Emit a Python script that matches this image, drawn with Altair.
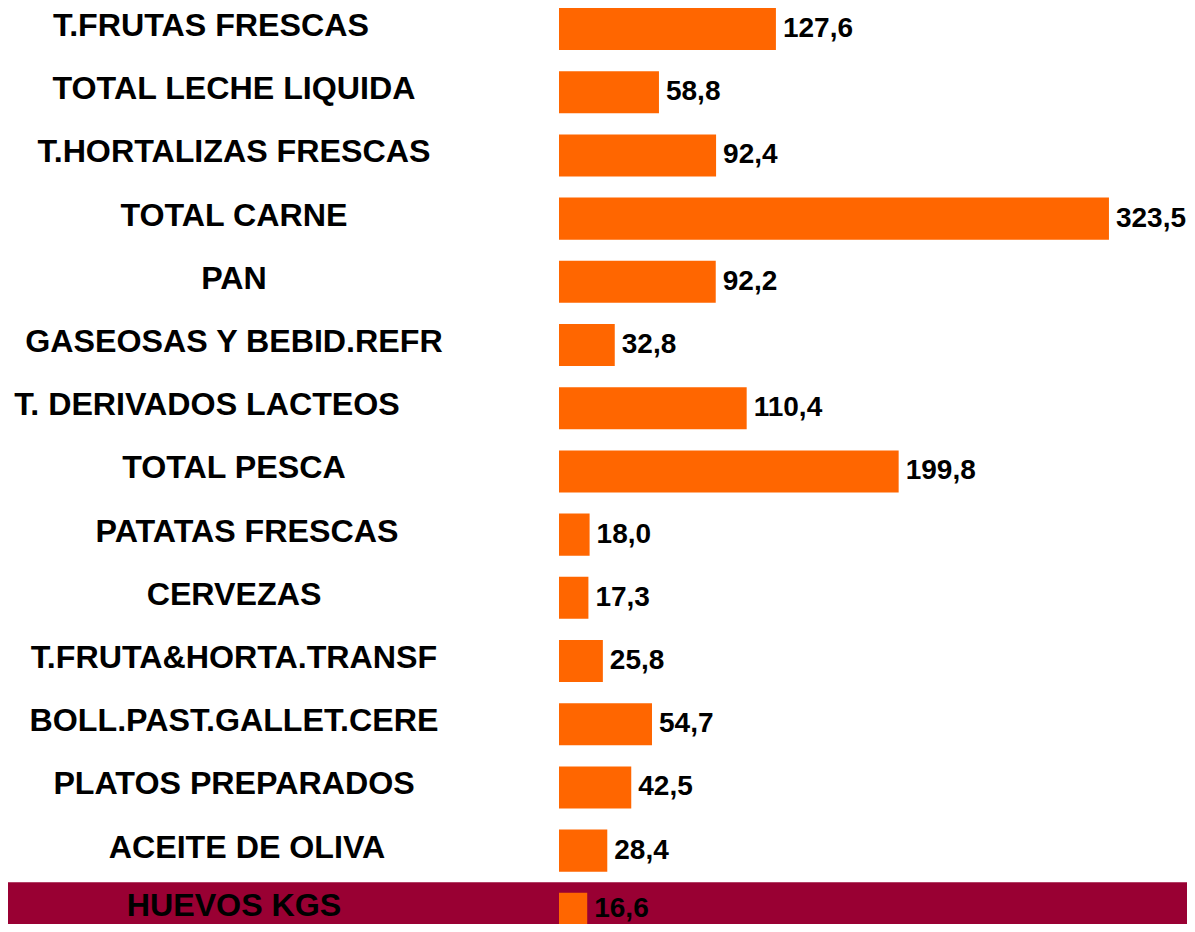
import altair as alt
import pandas as pd

categories = [
    "T.FRUTAS FRESCAS",
    "TOTAL LECHE LIQUIDA",
    "T.HORTALIZAS FRESCAS",
    "TOTAL CARNE",
    "PAN",
    "GASEOSAS Y BEBID.REFR",
    "T. DERIVADOS LACTEOS",
    "TOTAL PESCA",
    "PATATAS FRESCAS",
    "CERVEZAS",
    "T.FRUTA&HORTA.TRANSF",
    "BOLL.PAST.GALLET.CERE",
    "PLATOS PREPARADOS",
    "ACEITE DE OLIVA",
    "HUEVOS KGS",
]
values = [127.6, 58.8, 92.4, 323.5, 92.2, 32.8, 110.4, 199.8, 18.0, 17.3, 25.8, 54.7, 42.5, 28.4, 16.6]
highlight = "HUEVOS KGS"

df = pd.DataFrame({"cat": categories, "val": values})

W, H = 1179, 916
FONT = "Liberation Sans"
PX = 1.70          # pixels per unit
X0 = 551           # pixel position of the zero baseline inside the chart
STEP = 63.2        # row pitch
PAD_IN = 0.335

yenc = alt.Y(
    "cat:N",
    sort=categories,
    scale=alt.Scale(domain=categories, range=[0, STEP * (len(categories) - PAD_IN)],
                    paddingInner=PAD_IN, paddingOuter=0),
    axis=None,
)
xscale = alt.Scale(domain=[-X0 / PX, (W - X0) / PX], nice=False, zero=False)

is_hl = alt.datum.cat == highlight
not_hl = alt.datum.cat != highlight

band = (
    alt.Chart(df)
    .transform_filter(is_hl)
    .mark_bar(color="#990033", height={"band": 1.5})
    .encode(y=yenc, x=alt.value(0), x2=alt.value(W))
)

bars = (
    alt.Chart(df)
    .mark_bar(color="#FF6600")
    .encode(y=yenc, x=alt.X("val:Q", scale=xscale, axis=None))
)


def num_layer(filt, dy):
    return (
        alt.Chart(df)
        .transform_filter(filt)
        .transform_calculate(lbl="replace(format(datum.val, '.1f'), '.', ',')")
        .mark_text(align="left", baseline="middle", dx=7, dy=dy, font=FONT, fontWeight="bold",
                   fontSize=28, color="black")
        .encode(y=yenc, x=alt.X("val:Q", scale=xscale, axis=None), text="lbl:N")
    )


# label groups drawn with slightly different horizontal offsets, as in the original
left_a = ["T.FRUTAS FRESCAS"]
left_b = ["T. DERIVADOS LACTEOS"]
right_c = ["PATATAS FRESCAS", "ACEITE DE OLIVA"]
special = left_a + left_b + right_c + [highlight]


def label_layer(filt, dx, dy=-3):
    return (
        alt.Chart(df)
        .transform_filter(filt)
        .mark_text(align="center", baseline="middle", dx=dx, dy=dy, font=FONT, fontWeight="bold",
                   fontSize=32.2, color="black")
        .encode(y=yenc, x=alt.value(226), text="cat:N")
    )


layers = [
    band,
    bars,
    num_layer(not_hl, 0),
    num_layer(is_hl, -5),
    label_layer(~alt.FieldOneOfPredicate(field="cat", oneOf=special), 0),
    label_layer(alt.FieldOneOfPredicate(field="cat", oneOf=left_a), -23),
    label_layer(alt.FieldOneOfPredicate(field="cat", oneOf=left_b), -27),
    label_layer(alt.FieldOneOfPredicate(field="cat", oneOf=right_c), 13),
    label_layer(is_hl, 0, -8),
]

chart = (
    alt.layer(*layers)
    .properties(width=W, height=H, autosize=alt.AutoSizeParams(type="none"), padding=0)
    .configure_view(stroke=None)
)

chart.save("out.html", embed_options={"renderer": "svg", "actions": False})
